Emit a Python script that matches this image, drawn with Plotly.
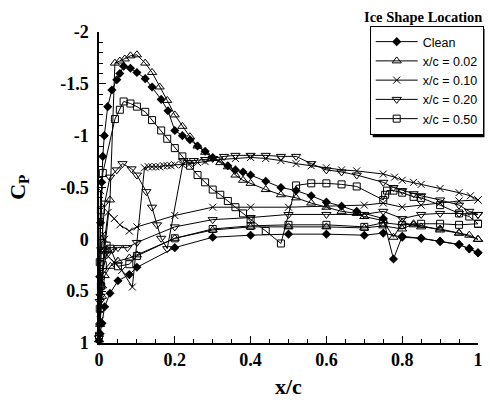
import plotly.graph_objects as go

# ---------------- data (x/c, Cp) ----------------
# Clean
clean_up_x = [1.0, 0.977, 0.95, 0.9, 0.85, 0.8, 0.777, 0.75, 0.68, 0.64, 0.6, 0.56, 0.52, 0.48, 0.44, 0.40, 0.38,
              0.36, 0.34, 0.30, 0.28, 0.26, 0.24, 0.22, 0.20, 0.182, 0.164, 0.14, 0.122, 0.10, 0.083, 0.065, 0.055,
              0.047, 0.034, 0.023, 0.014, 0.01, 0.007, 0.004, 0.002]
clean_up_cp = [0.13, 0.09, 0.05, 0.02, -0.01, -0.03, 0.19, -0.20, -0.27, -0.32, -0.36, -0.42, -0.47, -0.50, -0.56,
               -0.62, -0.65, -0.67, -0.71, -0.79, -0.85, -0.90, -0.96, -1.00, -1.05, -1.24, -1.35, -1.47, -1.55,
               -1.61, -1.65, -1.67, -1.60, -1.54, -1.44, -1.28, -1.00, -0.80, -0.55, -0.16, 0.36]
clean_lo_x = [0.0, 0.003, 0.008, 0.015, 0.029, 0.05, 0.08, 0.10, 0.20, 0.30, 0.40, 0.50, 0.60, 0.70, 0.75, 0.80,
              0.85, 0.90, 0.95, 0.977, 1.0]
clean_lo_cp = [0.98, 0.91, 0.81, 0.65, 0.52, 0.40, 0.34, 0.27, 0.08, -0.02, -0.04, -0.05, -0.05, -0.04, -0.06,
               -0.02, -0.01, 0.02, 0.05, 0.09, 0.13]

# Ice at x/c = 0.02
ice02_up_x = [1.0, 0.977, 0.95, 0.9, 0.85, 0.83, 0.8, 0.777, 0.75, 0.70, 0.68, 0.64, 0.60, 0.56, 0.52, 0.48, 0.44,
              0.40, 0.38, 0.36, 0.34, 0.32, 0.30, 0.28, 0.26, 0.24, 0.22, 0.20, 0.18, 0.16, 0.14, 0.122, 0.10,
              0.083, 0.068, 0.055, 0.042, 0.029, 0.015, 0.008, 0.003]
ice02_up_cp = [0.0, -0.04, -0.06, -0.10, -0.12, -0.14, -0.16, -0.02, -0.18, -0.22, -0.25, -0.27, -0.31, -0.35,
               -0.40, -0.43, -0.48, -0.54, -0.57, -0.62, -0.70, -0.74, -0.78, -0.84, -0.90, -0.99, -1.09, -1.20,
               -1.34, -1.47, -1.61, -1.70, -1.78, -1.77, -1.74, -1.72, -1.70, -0.38, 0.10, 0.45, 0.80]
ice02_lo_x = [0.0, 0.003, 0.008, 0.015, 0.03, 0.05, 0.08, 0.10, 0.20, 0.30, 0.40, 0.50, 0.60, 0.70, 0.75, 0.80,
              0.83, 0.90, 0.95, 1.0]
ice02_lo_cp = [0.97, 0.82, 0.55, 0.35, 0.26, 0.21, 0.18, 0.15, -0.01, -0.09, -0.12, -0.12, -0.12, -0.11, -0.13,
               -0.10, -0.15, -0.09, -0.06, 0.0]

# Ice at x/c = 0.10
ice10_up_x = [1.0, 0.98, 0.95, 0.9, 0.85, 0.83, 0.8, 0.78, 0.75, 0.68, 0.64, 0.60, 0.56, 0.52, 0.48, 0.44, 0.40,
              0.36, 0.32, 0.28, 0.26, 0.24, 0.22, 0.20, 0.19, 0.18, 0.17, 0.16, 0.15, 0.14, 0.13, 0.12, 0.088,
              0.06, 0.04, 0.02, 0.01, 0.004]
ice10_up_cp = [-0.38, -0.42, -0.45, -0.49, -0.53, -0.55, -0.57, -0.60, -0.63, -0.66, -0.67, -0.69, -0.71, -0.73,
               -0.76, -0.78, -0.79, -0.78, -0.77, -0.75, -0.74, -0.73, -0.72, -0.72, -0.71, -0.71, -0.71, -0.70,
               -0.70, -0.70, -0.70, -0.69, 0.46, 0.30, 0.22, 0.15, -0.05, -0.47]
ice10_lo_x = [0.0, 0.003, 0.008, 0.015, 0.024, 0.04, 0.055, 0.08, 0.10, 0.20, 0.30, 0.40, 0.50, 0.60, 0.70, 0.75,
              0.80, 0.85, 0.90, 0.95, 1.0]
ice10_lo_cp = [0.95, 0.78, 0.40, 0.0, -0.26, -0.20, -0.14, -0.08, -0.12, -0.23, -0.31, -0.31, -0.31, -0.32, -0.33,
               -0.35, -0.31, -0.33, -0.35, -0.37, -0.38]

# Ice at x/c = 0.20
ice20_up_x = [1.0, 0.977, 0.95, 0.9, 0.85, 0.83, 0.8, 0.777, 0.75, 0.68, 0.64, 0.60, 0.56, 0.52, 0.48, 0.44, 0.40,
              0.36, 0.33, 0.30, 0.28, 0.25, 0.223, 0.18, 0.164, 0.153, 0.14, 0.125, 0.10, 0.086, 0.062, 0.047,
              0.029, 0.015, 0.006, 0.002]
ice20_up_cp = [-0.24, -0.27, -0.33, -0.38, -0.42, -0.44, -0.47, -0.50, -0.55, -0.62, -0.65, -0.67, -0.73, -0.80,
               -0.80, -0.81, -0.81, -0.81, -0.80, -0.78, -0.77, -0.76, -0.76, 0.09, -0.01, -0.14, -0.31, -0.46,
               -0.62, -0.68, -0.73, -0.67, -0.60, -0.35, 0.10, 0.60]
ice20_lo_x = [0.0, 0.004, 0.01, 0.02, 0.035, 0.05, 0.075, 0.10, 0.20, 0.30, 0.40, 0.50, 0.60, 0.70, 0.75, 0.80,
              0.85, 0.90, 0.95, 1.0]
ice20_lo_cp = [0.95, 0.55, 0.30, 0.15, 0.10, 0.08, 0.08, 0.03, -0.12, -0.19, -0.21, -0.24, -0.24, -0.24, -0.27,
               -0.20, -0.24, -0.25, -0.25, -0.24]

# Ice at x/c = 0.50
ice50_up_x = [1.0, 0.977, 0.95, 0.9, 0.85, 0.83, 0.8, 0.777, 0.76, 0.755, 0.75, 0.68, 0.64, 0.60, 0.56, 0.52, 0.48,
              0.44, 0.40, 0.38, 0.36, 0.34, 0.32, 0.30, 0.28, 0.26, 0.24, 0.22, 0.20, 0.18, 0.164, 0.14, 0.122,
              0.10, 0.083, 0.065, 0.055, 0.042, 0.01, 0.005, 0.002]
ice50_up_cp = [-0.15, -0.22, -0.25, -0.33, -0.40, -0.41, -0.45, -0.47, -0.47, -0.43, -0.38, -0.51, -0.53, -0.54,
               -0.54, -0.52, 0.04, -0.08, -0.19, -0.25, -0.31, -0.37, -0.43, -0.48, -0.55, -0.62, -0.71, -0.80,
               -0.88, -0.97, -1.05, -1.15, -1.23, -1.28, -1.31, -1.33, -1.25, -1.16, -0.64, -0.28, 0.22]
ice50_lo_x = [0.0, 0.002, 0.005, 0.01, 0.02, 0.03, 0.05, 0.08, 0.10, 0.20, 0.30, 0.40, 0.50, 0.60, 0.70, 0.75,
              0.80, 0.85, 0.90, 0.95, 1.0]
ice50_lo_cp = [0.93, 0.67, 0.45, 0.25, 0.06, 0.09, 0.26, 0.24, 0.16, -0.01, -0.10, -0.13, -0.14, -0.14, -0.12,
               -0.16, -0.14, -0.15, -0.15, -0.14, -0.15]

series_names = ["Clean", "x/c = 0.02", "x/c = 0.10", "x/c = 0.20", "x/c = 0.50"]
x_ticks = [0, 0.2, 0.4, 0.6, 0.8, 1]
y_ticks = [-2, -1.5, -1, -0.5, 0, 0.5, 1]

# ---------------- styles ----------------
series = [
    (clean_up_x + clean_lo_x, clean_up_cp + clean_lo_cp, dict(symbol="diamond", size=7, color="black")),
    (ice02_up_x + ice02_lo_x, ice02_up_cp + ice02_lo_cp,
     dict(symbol="triangle-up-open", size=8, color="black", line=dict(width=1, color="black"))),
    (ice10_up_x + ice10_lo_x, ice10_up_cp + ice10_lo_cp,
     dict(symbol="x-thin-open", size=7, color="black", line=dict(width=1, color="black"))),
    (ice20_up_x + ice20_lo_x, ice20_up_cp + ice20_lo_cp,
     dict(symbol="triangle-down-open", size=8, color="black", line=dict(width=1, color="black"))),
    (ice50_up_x + ice50_lo_x, ice50_up_cp + ice50_lo_cp,
     dict(symbol="square-open", size=7, color="black", line=dict(width=1, color="black"))),
]

fig = go.Figure()
for name, (xs, ys, mk) in zip(series_names, series):
    fig.add_trace(go.Scatter(x=xs, y=ys, name=name, mode="lines+markers",
                             line=dict(color="black", width=1), marker=mk, cliponaxis=False))

serif = "Liberation Serif, Times New Roman, serif"
sans = "Liberation Sans, Arial, sans-serif"

# plot area in pixels: left 99, right 484, top 32, bottom 343
PL, PR, PT, PB = 99, 484, 32, 343
def px_x(p):
    return (p - PL) / (PR - PL)
def px_y(p):
    return (PB - p) / (PB - PT)

# legend box (plotly: width = text + itemwidth + 17, height = 5*19.25 + 12)
LEG_FS, LEG_IW = 12.5, 42
LEG_L, LEG_T, SH = 374, 26, 3
LEG_W = 54.6 + LEG_IW + 17
LEG_H = 5 * (LEG_FS * 1.3 + 3) + 12

fig.update_layout(
    width=490, height=400,
    margin=dict(l=PL, r=490 - PR, t=PT, b=400 - PB),
    paper_bgcolor="white", plot_bgcolor="white",
    showlegend=True,
    legend=dict(x=px_x(LEG_L), y=px_y(LEG_T), xanchor="left", yanchor="top",
                bgcolor="white", bordercolor="black", borderwidth=1,
                font=dict(family=sans, size=LEG_FS, color="black"),
                itemwidth=LEG_IW, tracegroupgap=0),
    xaxis=dict(range=[0, 1], tickvals=x_ticks, ticktext=[f"{v:g}" for v in x_ticks],
               showline=True, linecolor="black", linewidth=1.5, mirror=False,
               ticks="inside", ticklen=7, tickwidth=1, tickcolor="black",
               minor=dict(dtick=0.05, ticks="inside", ticklen=4, tickcolor="black"),
               showgrid=False, zeroline=False,
               tickfont=dict(family=serif, size=18, color="black", weight="bold")),
    yaxis=dict(range=[1, -2], tickvals=y_ticks, ticktext=[f"{v:g}" for v in y_ticks],
               showline=True, linecolor="black", linewidth=1.5, mirror=False,
               ticks="inside", ticklen=7, tickwidth=1, tickcolor="black",
               minor=dict(dtick=0.1, ticks="inside", ticklen=4, tickcolor="black"),
               showgrid=False, zeroline=False, ticklabelstandoff=5,
               tickfont=dict(family=serif, size=18, color="black", weight="bold")),
    shapes=[
        dict(type="rect", xref="paper", yref="paper",
             x0=px_x(LEG_L + SH), x1=px_x(LEG_L + LEG_W + SH),
             y0=px_y(LEG_T + LEG_H + SH), y1=px_y(LEG_T + SH),
             fillcolor="black", line=dict(width=0), layer="above"),
    ],
    annotations=[
        dict(text="<b>C<sub>P</sub></b>", xref="paper", yref="paper", x=px_x(17), y=0.5,
             xanchor="center", yanchor="middle",
             textangle=-90, showarrow=False, font=dict(family=serif, size=22, color="black")),
        dict(text="<b>x/c</b>", xref="paper", yref="paper", x=0.5, y=px_y(386),
             xanchor="center", yanchor="middle",
             showarrow=False, font=dict(family=serif, size=22, color="black")),
        dict(text="<b>Ice Shape Location</b>", xref="paper", yref="paper", x=px_x(428), y=px_y(17),
             xanchor="center", yanchor="middle",
             showarrow=False, font=dict(family=serif, size=14.5, color="black")),
    ],
)

fig.write_html("out.html")
